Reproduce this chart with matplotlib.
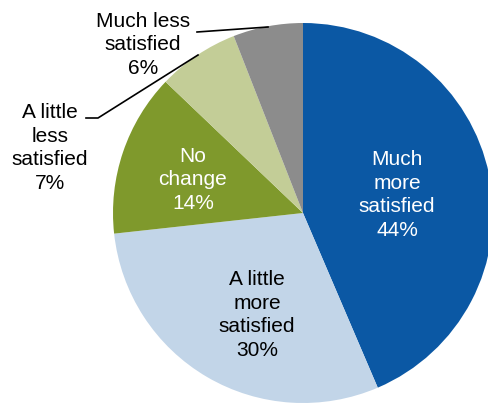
import matplotlib.pyplot as plt

# Survey shares (they round to 101%, pie normalises them)
categories = ['Much\nmore\nsatisfied', 'A little\nmore\nsatisfied', 'No\nchange',
              'A little\nless\nsatisfied', 'Much less\nsatisfied']
shares = [44, 30, 14, 7, 6]
colors = ['#0B58A4', '#C2D5E8', '#7F992C', '#C3CD97', '#8C8C8C']
text_colors = ['white', 'black', 'white', 'black', 'black']

plt.rcParams['font.family'] = ['Liberation Sans', 'DejaVu Sans']

W, H = 489, 403
R = 190.0        # pie radius in pixels
CX, CY = 303, 213  # pie centre in pixels (from top-left)

fig = plt.figure(figsize=(W / 100, H / 100), dpi=100)
ax = fig.add_axes([0, 0, 1, 1])

ax.pie(shares, colors=colors, startangle=90, counterclock=False, radius=1.0,
       wedgeprops=dict(linewidth=0))

# pie() resets the limits, so set them afterwards
ax.set_aspect('auto')
ax.set_xlim(-CX / R, (W - CX) / R)
ax.set_ylim(-(H - CY) / R, CY / R)
ax.axis('off')


def px(x, y):
    # pixel position -> data coordinates
    return (x - CX) / R, (CY - y) / R


# label centres in pixels
label_pos = [(397, 195), (257, 315), (193, 180), (50, 148), (143, 45)]
for name, val, c, (lx, ly) in zip(categories, shares, text_colors, label_pos):
    x, y = px(lx, ly)
    ax.text(x, y, f'{name}\n{val}%', ha='center', va='center', color=c,
            fontsize=15, linespacing=1.3)

# leader lines for the two small slices
line1 = [px(197, 32), px(268, 27)]
line2 = [px(86, 118), px(98, 118), px(198, 55)]
for pts in (line1, line2):
    xs, ys = zip(*pts)
    ax.plot(xs, ys, color='black', linewidth=1.2)

fig.savefig('out.png', dpi=100)
